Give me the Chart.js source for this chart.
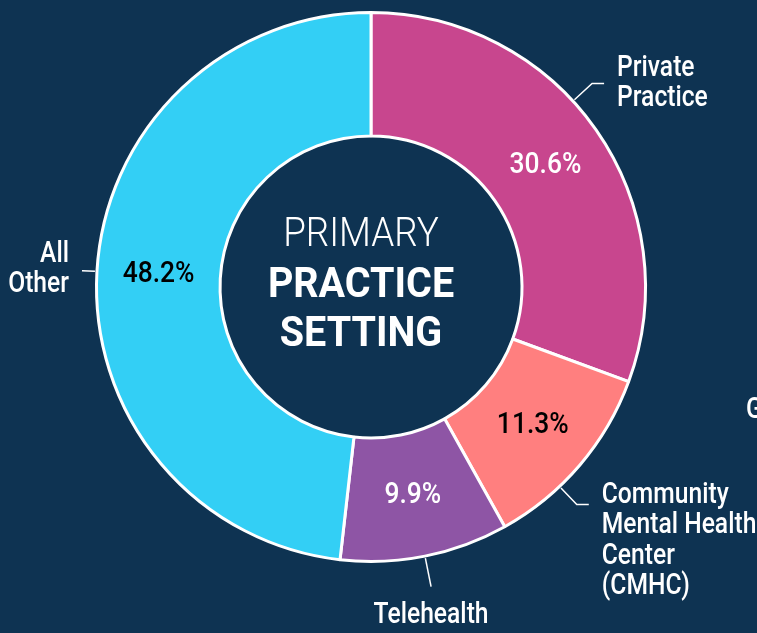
<html>
<script src="https://cdn.jsdelivr.net/npm/chart.js@4.4.0/dist/chart.umd.min.js"></script>
<style>
  body { margin: 0; background: #0e3352; }
  canvas { display: block; }
</style>

<body>
  <canvas id="settingChart" width="757" height="633"></canvas>
</body>

<script>
  // data
  var settings = ["Private Practice", "Community Mental Health Center (CMHC)", "Telehealth", "All Other"];
  var shares = [30.6, 11.3, 9.9, 48.2];
  var sliceColors = ["#c8468e", "#ff7f7f", "#8e55a5", "#33cff5"];
  var pctColors = ["#ffffff", "#000000", "#ffffff", "#000000"];
  // outer label lines (text) and where along the slice the leader sits
  var outerLabels = [["Private", "Practice"], ["Community", "Mental Health", "Center", "(CMHC)"], ["Telehealth"], ["All", "Other"]];
  var leaderAt = [0.43, 0.65, 0.5, 0.5];
  var centerTitle = ["PRIMARY", "PRACTICE", "SETTING"];

  var FONT = 'Roboto, "Liberation Sans", sans-serif';

  // no condensed face installed, so squeeze the text horizontally
  function narrowText(ctx, text, x, y, align, squeeze) {
    ctx.save();
    ctx.translate(x, y);
    ctx.scale(squeeze, 1);
    ctx.textAlign = align;
    ctx.fillText(text, 0, 0);
    ctx.restore();
  }

  var labelPlugin = {
    id: 'labels',
    afterDraw: function (chart) {
      var ctx = chart.ctx;
      var arcs = chart.getDatasetMeta(0).data;
      ctx.save();
      ctx.textBaseline = 'middle';

      // percentages inside slices
      ctx.font = '500 30px ' + FONT;
      arcs.forEach(function (arc, i) {
        var p = arc.tooltipPosition();
        ctx.fillStyle = pctColors[i];
        narrowText(ctx, shares[i].toFixed(1) + '%', p.x, p.y, 'center', 0.88);
      });

      // leader lines + outer labels
      ctx.strokeStyle = '#ffffff';
      ctx.lineWidth = 1.5;
      ctx.fillStyle = '#ffffff';
      ctx.font = '500 29px ' + FONT;
      var sq = 0.85;
      arcs.forEach(function (arc, i) {
        var a = arc.startAngle + (arc.endAngle - arc.startAngle) * leaderAt[i];
        var r0 = arc.outerRadius + 2;
        var len = [24, 23, 29, 13][i];
        var x0 = arc.x + Math.cos(a) * r0, y0 = arc.y + Math.sin(a) * r0;
        var x1 = arc.x + Math.cos(a) * (r0 + len), y1 = arc.y + Math.sin(a) * (r0 + len);
        ctx.beginPath();
        ctx.moveTo(x0, y0);
        ctx.lineTo(x1, y1);
        var lines = outerLabels[i];
        var lh = 30.5;
        if (i === 0 || i === 1) {
          var x2 = x1 + 12;
          ctx.lineTo(x2, y1);
          ctx.stroke();
          var ty = i === 0 ? y1 - 15 : y1 - 9;
          lines.forEach(function (t, k) { narrowText(ctx, t, x2 + 13, ty + k * lh, 'left', sq); });
        } else if (i === 2) {
          ctx.stroke();
          narrowText(ctx, lines[0], x1, y1 + 29, 'center', sq);
        } else {
          ctx.stroke();
          lines.forEach(function (t, k) { narrowText(ctx, t, x1 - 13, y1 - 16 + k * lh, 'right', sq); });
        }
      });
      // cut-off label at the right edge
      narrowText(ctx, 'G', 746, 411, 'left', sq);

      // centre title (sits a little left of the hole's centre)
      var cx = arcs[0].x - 10, cy = arcs[0].y;
      ctx.font = '300 40px ' + FONT;
      narrowText(ctx, centerTitle[0], cx, cy - 51, 'center', 0.92);
      ctx.font = 'bold 42px ' + FONT;
      narrowText(ctx, centerTitle[1], cx, cy - 1, 'center', 0.94);
      narrowText(ctx, centerTitle[2], cx, cy + 48, 'center', 0.94);
      ctx.restore();
    }
  };

  var settingChart = new Chart(document.getElementById('settingChart'), {
    type: 'doughnut',
    data: {
      labels: settings,
      datasets: [{
        data: shares,
        backgroundColor: sliceColors,
        borderColor: '#ffffff',
        borderWidth: 3
      }]
    },
    options: {
      responsive: false,
      animation: false,
      cutout: '55%',
      layout: { padding: { left: 95, right: 110, top: 11, bottom: 70 } },
      plugins: { legend: { display: false }, tooltip: { enabled: false } }
    },
    plugins: [labelPlugin]
  });
</script>

</html>
